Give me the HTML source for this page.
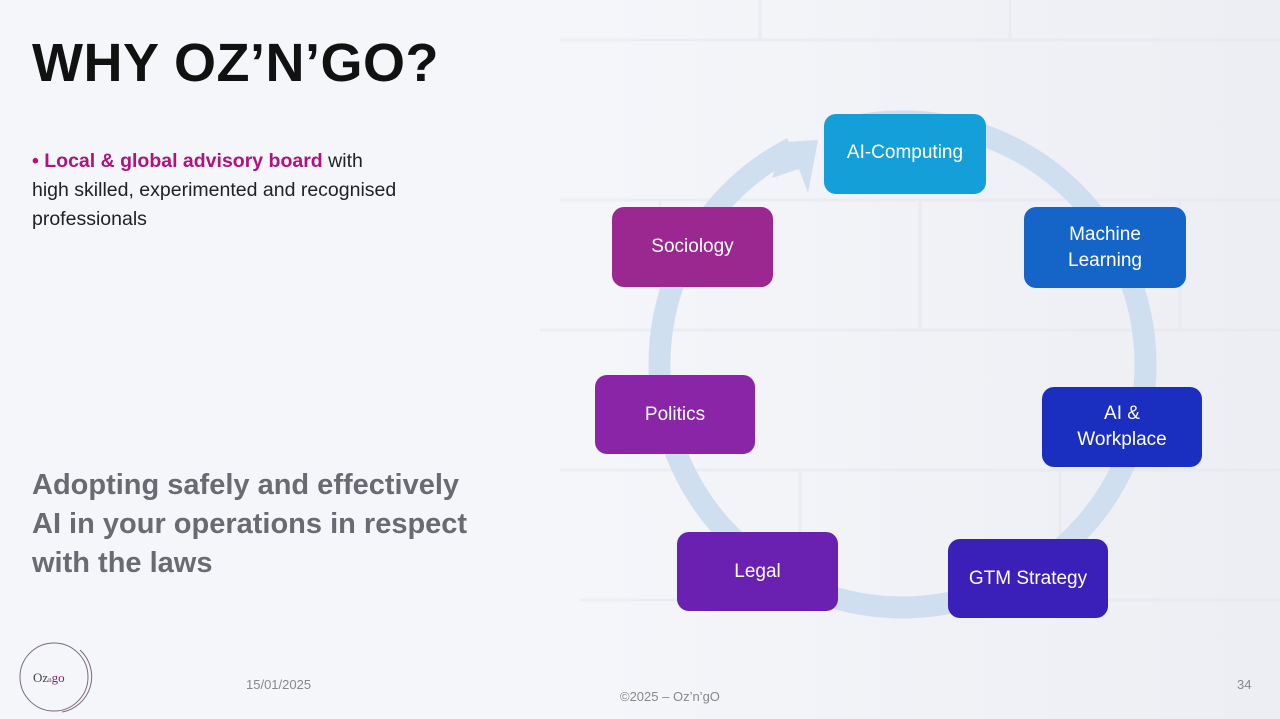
<!DOCTYPE html>
<html><head><meta charset="utf-8"><style>
body{margin:0;width:1280px;height:719px;overflow:hidden;background:#f5f6fa;font-family:"Liberation Sans",sans-serif;position:relative}
.t{position:absolute;white-space:nowrap}
.b{position:absolute;border-radius:12px;color:#fff;font-size:19px;display:flex;align-items:center;justify-content:center;text-align:center;line-height:26px}
</style></head><body>
<svg class="t" style="left:0;top:0" width="1280" height="719">
<defs><linearGradient id="g" x1="0" x2="1"><stop offset="0" stop-color="#f5f6fa"/><stop offset="0.45" stop-color="#f5f6fa"/><stop offset="1" stop-color="#eceef3"/></linearGradient></defs>
<rect width="1280" height="719" fill="url(#g)"/>
<g stroke="#e4e6ec" stroke-width="3" fill="none" opacity="0.5">
<path d="M560 40 H1280 M560 200 H1280 M540 330 H1280 M560 470 H1280 M580 600 H1280"/>
<path d="M760 0 V40 M1010 0 V40 M660 200 V330 M920 200 V330 M1180 200 V330 M800 470 V600 M1060 470 V600"/>
</g>
<path d="M861 125 A243 243 0 1 1 792 148" fill="none" stroke="#cfdff0" stroke-width="22"/>
<polygon points="818,140 808,193 799,169 772,178 785,142" fill="#cfdff0"/>
<circle cx="54" cy="677" r="34" fill="none" stroke="#7a6a7a" stroke-width="1"/>
<path d="M80 650 A36 36 0 0 1 62 712" fill="none" stroke="#7a6a7a" stroke-width="1"/>
</svg>
<div class="t" style="left:32px;top:32px;font-size:54px;font-weight:bold;color:#111;letter-spacing:0.5px">WHY OZ’N’GO?</div>
<div class="t" style="left:32px;top:147px;font-size:19.5px;line-height:29px;color:#222"><span style="color:#b0127f;font-weight:bold">• Local &amp; global advisory board</span> with<br>high skilled, experimented and recognised<br>professionals</div>
<div class="t" style="left:32px;top:466px;font-size:29px;line-height:39px;font-weight:bold;color:#6a6a72">Adopting safely and effectively<br>AI in your operations in respect<br>with the laws</div>
<div class="t" style="left:33px;top:670px;font-size:13px;color:#444;font-family:'Liberation Serif',serif">Oz<span style="font-size:7px">n</span><span style="color:#8a2070">go</span></div>
<div class="t" style="left:246px;top:677px;font-size:13px;color:#888">15/01/2025</div>
<div class="t" style="left:620px;top:689px;font-size:13px;color:#888">©2025 – Oz’n’gO</div>
<div class="t" style="left:1237px;top:677px;font-size:13px;color:#888">34</div>
<div class="b" style="left:824px;top:114px;width:162px;background:#149fd8;align-items:flex-start;padding-top:26px;height:54px">AI-Computing</div>
<div class="b" style="left:1024px;top:207px;width:162px;height:81px;background:#1565c8">Machine<br>Learning</div>
<div class="b" style="left:1042px;top:387px;width:160px;height:80px;background:#1a2fc0">AI &amp;<br>Workplace</div>
<div class="b" style="left:948px;top:539px;width:160px;height:79px;background:#3a1fb8">GTM Strategy</div>
<div class="b" style="left:677px;top:532px;width:161px;height:79px;background:#6a20b0">Legal</div>
<div class="b" style="left:595px;top:375px;width:160px;height:79px;background:#8a25a8">Politics</div>
<div class="b" style="left:612px;top:207px;width:161px;height:80px;background:#9b2890">Sociology</div>
</body></html>
